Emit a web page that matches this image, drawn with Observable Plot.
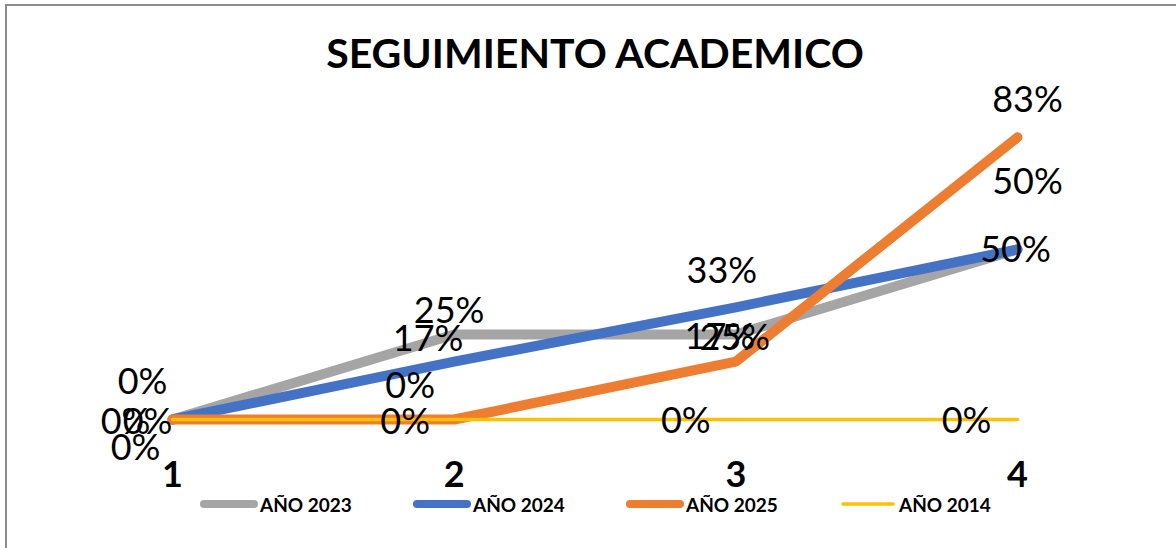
<!DOCTYPE html>
<html>
<head>
<meta charset="utf-8">
<script src="https://cdn.jsdelivr.net/npm/d3@7"></script>
<script src="https://cdn.jsdelivr.net/npm/@observablehq/plot@0.6"></script>
<style>
  html, body { margin: 0; padding: 0; background: #fff; }
  #wrap { position: relative; width: 1176px; height: 548px; overflow: hidden; font-family: Lato, "Open Sans", sans-serif; }
  #frame { position: absolute; left: 5px; top: 4px; width: 1300px; height: 700px; border-top: 2px solid #8c8c8c; border-left: 2px solid #8c8c8c; box-sizing: border-box; }
  #title { position: absolute; left: 0; top: 32px; width: 1190px; text-align: center; font-size: 41px; line-height: 41px; font-weight: bold; color: #000; white-space: nowrap; }
  #chart { position: absolute; left: 0; top: 78px; }
  #chart svg { overflow: visible; }
  #legend { position: absolute; left: 196px; top: 494px; height: 22px; white-space: nowrap; }
  .item { position: absolute; top: 0; height: 22px; display: flex; align-items: center; }
  .item span { font-size: 19px; font-weight: bold; color: #000; line-height: 22px; }
</style>
</head>
<body>
<div id="wrap">
  <div id="frame"></div>
  <div id="title"></div>
  <div id="chart"></div>
  <div id="legend"></div>
</div>
<script>
// ---- data ----
const chartTitle = "SEGUIMIENTO ACADEMICO";
const categories = [1, 2, 3, 4];
const tickLabels = ["1", "2", "3", "4"];
const seriesNames = ["AÑO 2023", "AÑO 2024", "AÑO 2025", "AÑO 2014"];
const ano2023 = [0, 0.25, 0.25, 0.50];
const ano2024 = [0, 0.17, 0.33, 0.50];
const ano2025 = [0, 0, 0.17, 0.83];
const ano2014 = [0, 0, 0, 0];

// ---- style ----
const seriesValues = [ano2023, ano2024, ano2025, ano2014];
const colors = ["#A5A5A5", "#4472C4", "#ED7D31", "#FFC000"];
const widths = [10, 10, 10, 3.5];
// data-label offsets (px) per series, per category
const labelOffsets = [
  [[-37, 29], [-5, -23], [-1, 4], [-2, 1]],
  [[-25, 3], [-26, -22], [-14, -36], [10, -67]],
  [[-30, -37], [-44, -33], [-16, -24], [10, -37]],
  [[-47, 3], [-49, 3], [-50, 2], [-51, 2]]
];

document.getElementById("title").textContent = chartTitle;

const rows = seriesNames.flatMap((s, si) =>
  categories.map((c, i) => ({series: s, si, i, x: c, y: seriesValues[si][i]})));

const pct = d3.format(".0%");
const marks = [];
seriesNames.forEach((s, si) => {
  marks.push(Plot.line(rows.filter(r => r.si === si), {
    x: "x", y: "y", stroke: colors[si], strokeWidth: widths[si],
    strokeLinecap: "round", strokeLinejoin: "round"
  }));
});
rows.forEach(r => {
  const [dx, dy] = labelOffsets[r.si][r.i];
  marks.push(Plot.text([r], {
    x: "x", y: "y", text: d => pct(d.y), dx, dy,
    fontSize: 36, fill: "#000", fontFamily: "Lato"
  }));
});
marks.push(Plot.axisX({
  ticks: categories,
  tickFormat: d => tickLabels[categories.indexOf(d)],
  tickSize: 0, tickPadding: 42, fontSize: 36, fontWeight: "bold",
  fontFamily: "Lato", label: null
}));

const plot = Plot.plot({
  width: 1176,
  height: 412,
  marginTop: 1,
  marginBottom: 71,
  marginLeft: 172,
  marginRight: 159,
  x: {type: "linear", domain: [1, 4]},
  y: {domain: [0, 1], axis: null},
  style: {fontFamily: "Lato", background: "transparent", color: "#000"},
  marks
});
document.getElementById("chart").appendChild(plot);

// legend
const legend = document.getElementById("legend");
seriesNames.forEach((s, si) => {
  const item = document.createElement("div");
  item.className = "item";
  item.style.left = (si * 213) + "px";
  const sw = d3.create("svg").attr("width", 64).attr("height", 22);
  sw.append("line").attr("x1", 8).attr("x2", 58).attr("y1", 10).attr("y2", 10)
    .attr("stroke", colors[si]).attr("stroke-width", si === 3 ? 3.5 : 8)
    .attr("stroke-linecap", "round");
  item.appendChild(sw.node());
  const t = document.createElement("span");
  t.textContent = s;
  item.appendChild(t);
  legend.appendChild(item);
});
</script>
</body>
</html>
